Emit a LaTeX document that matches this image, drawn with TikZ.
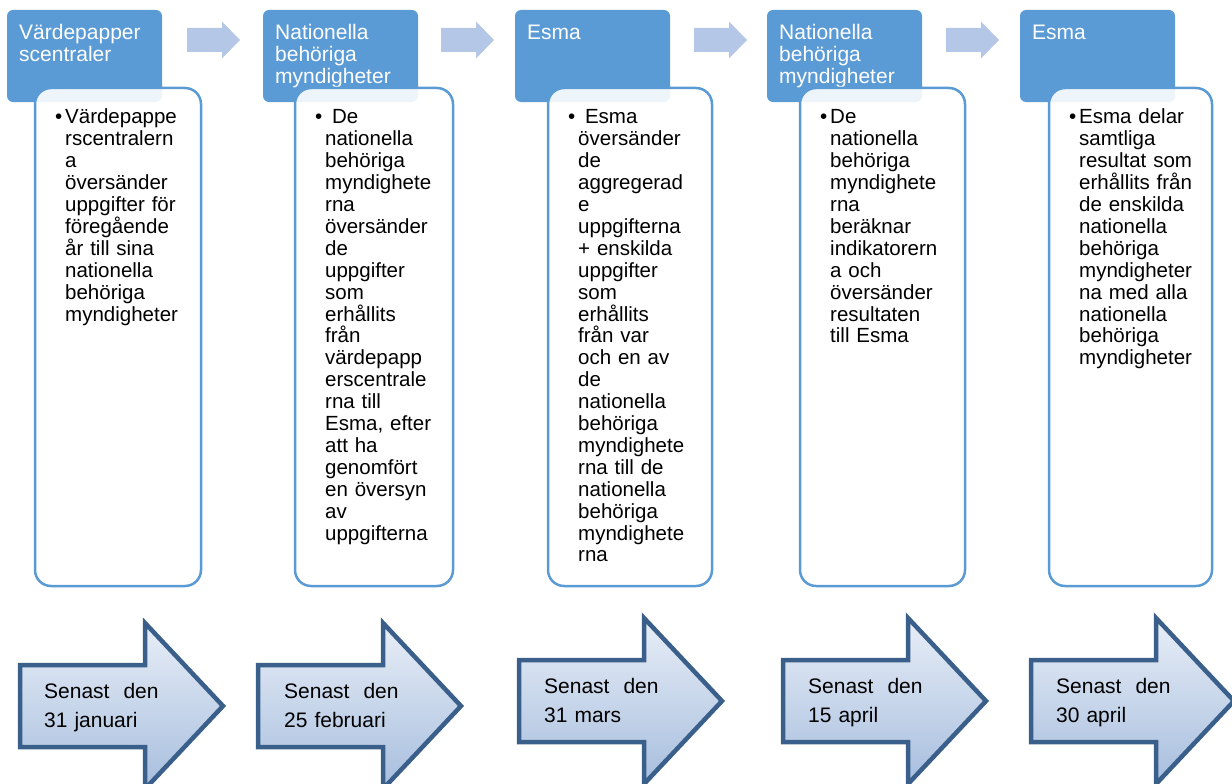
\documentclass[tikz,border=0pt]{standalone}
\usepackage{fontspec}
\setmainfont{Liberation Sans}
\usepackage{xcolor}
\usepackage{tikz}
\usetikzlibrary{positioning}

\definecolor{headblue}{HTML}{5B9BD5}
\definecolor{chevblue}{HTML}{B4C7E7}
\definecolor{arrowline}{HTML}{3A5F8B}
\definecolor{arrowtop}{HTML}{E8EEF7}
\definecolor{arrowbottom}{HTML}{A7BEDE}

\begin{document}
\begin{tikzpicture}[x=1pt, y=-1pt,
    header/.style={rectangle, fill=headblue, rounded corners=6pt, minimum width=155pt, minimum height=92pt, anchor=north west, inner sep=0pt, outer sep=0pt},
    headtext/.style={text=white, font=\fontsize{21}{21.6}\selectfont, text width=150pt, align=left, anchor=base west, inner sep=0pt},
    card/.style={rectangle, draw=headblue, line width=2.5pt, fill=white, fill opacity=0.9, rounded corners=16pt, minimum height=498pt, anchor=north west, inner sep=0pt, outer sep=0pt},
    cardtext/.style={font=\fontsize{20.5}{21.9}\selectfont, text width=150pt, align=left, anchor=base west, inner sep=0pt},
    datetext/.style={font=\fontsize{21}{29}\selectfont, text width=170pt, align=left, anchor=base west, inner sep=0pt},
    chevron/.pic={\fill[chevblue] (0,-12) -- (35,-12) -- (35,-18.5) -- (53,0) -- (35,18.5) -- (35,12) -- (0,12) -- cycle;},
    datearrow/.pic={\draw[line width=4.5pt, draw=arrowline, top color=arrowtop, bottom color=arrowbottom] (0,-41) -- (125,-41) -- (125,-83) -- (203,0) -- (125,83) -- (125,41) -- (0,41) -- cycle;}]

    \useasboundingbox (0,0) rectangle (1232,784);

    % Headers
    \node[header] (h1) at (7,10) {};
    \node[header] (h2) at (263,10) {};
    \node[header] (h3) at (515,10) {};
    \node[header] (h4) at (767,10) {};
    \node[header] (h5) at (1020,10) {};

    \node[headtext] (ht1) at ([shift={(12,30)}]h1.north west) {V\"ardepapper\\scentraler};
    \node[headtext] (ht2) at ([shift={(12,30)}]h2.north west) {Nationella\\beh\"origa\\myndigheter};
    \node[headtext] (ht3) at ([shift={(12,30)}]h3.north west) {Esma};
    \node[headtext] (ht4) at ([shift={(12,30)}]h4.north west) {Nationella\\beh\"origa\\myndigheter};
    \node[headtext] (ht5) at ([shift={(12,30)}]h5.north west) {Esma};

    % Chevrons between headers
    \pic at (187,40) {chevron};
    \pic at (441,40) {chevron};
    \pic at (694,40) {chevron};
    \pic at (946,40) {chevron};

    % Cards
    \node[card, minimum width=166pt] (c1) at (35,88) {};
    \node[card, minimum width=158pt] (c2) at (295,88) {};
    \node[card, minimum width=164pt] (c3) at (548,88) {};
    \node[card, minimum width=165pt] (c4) at (800,88) {};
    \node[card, minimum width=163pt] (c5) at (1049,88) {};

    \node[cardtext] (t1) at ([shift={(30,36)}]c1.north west) {\llap{•\hspace{3pt}}V\"ardepappe\\rscentralern\\a\\\"overs\"ander\\uppgifter f\"or\\f\"oreg\aa ende\\\aa r till sina\\nationella\\beh\"origa\\myndigheter};
    \node[cardtext] (t2) at ([shift={(30,36)}]c2.north west) {\llap{•\hspace{3pt}}\ De\\nationella\\beh\"origa\\myndighete\\rna\\\"overs\"ander\\de\\uppgifter\\som\\erh\aa llits\\fr\aa n\\v\"ardepapp\\erscentrale\\rna till\\Esma, efter\\att ha\\genomf\"ort\\en \"oversyn\\av\\uppgifterna};
    \node[cardtext] (t3) at ([shift={(30,36)}]c3.north west) {\llap{•\hspace{3pt}}\ Esma\\\"overs\"ander\\de\\aggregerad\\e\\uppgifterna\\+ enskilda\\uppgifter\\som\\erh\aa llits\\fr\aa n var\\och en av\\de\\nationella\\beh\"origa\\myndighete\\rna till de\\nationella\\beh\"origa\\myndighete\\rna};
    \node[cardtext] (t4) at ([shift={(30,36)}]c4.north west) {\llap{•\hspace{3pt}}De\\nationella\\beh\"origa\\myndighete\\rna\\ber\"aknar\\indikatorern\\a och\\\"overs\"ander\\resultaten\\till Esma};
    \node[cardtext] (t5) at ([shift={(30,36)}]c5.north west) {\llap{•\hspace{3pt}}Esma delar\\samtliga\\resultat som\\erh\aa llits fr\aa n\\de enskilda\\nationella\\beh\"origa\\myndigheter\\na med alla\\nationella\\beh\"origa\\myndigheter};

    % Deadline arrows
    \coordinate (a1) at (20,706);
    \coordinate (a2) at (258,706);
    \coordinate (a3) at (519,701);
    \coordinate (a4) at (783,701);
    \coordinate (a5) at (1031,701);
    \pic at (a1) {datearrow};
    \pic at (a2) {datearrow};
    \pic at (a3) {datearrow};
    \pic at (a4) {datearrow};
    \pic at (a5) {datearrow};

    \node[datetext] (d1) at ([shift={(24,-8)}]a1) {Senast\ \ den\\31 januari};
    \node[datetext] (d2) at ([shift={(26,-8)}]a2) {Senast\ \ den\\25 februari};
    \node[datetext] (d3) at ([shift={(25,-8)}]a3) {Senast\ \ den\\31 mars};
    \node[datetext] (d4) at ([shift={(25,-8)}]a4) {Senast\ \ den\\15 april};
    \node[datetext] (d5) at ([shift={(25,-8)}]a5) {Senast\ \ den\\30 april};

\end{tikzpicture}
\end{document}
